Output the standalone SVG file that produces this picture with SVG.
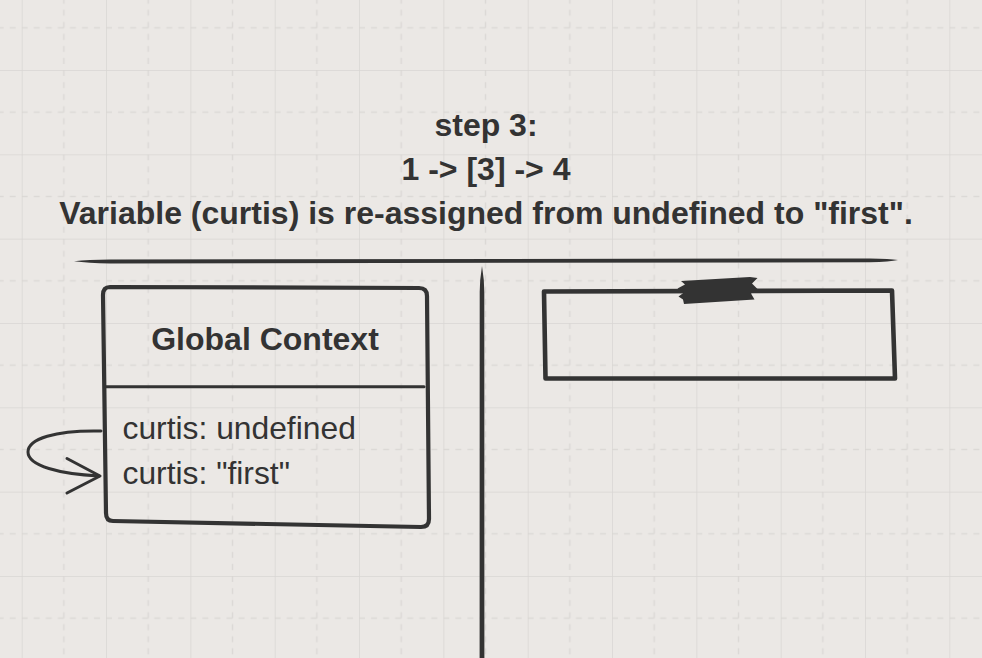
<svg xmlns="http://www.w3.org/2000/svg" width="982" height="658" viewBox="0 0 982 658">
  <style>
    .bg { fill: #ebe8e5; }
    .major { stroke: #d9d6d3; stroke-width: 1.5; fill: none; }
    .minor { stroke: #dcd9d6; stroke-width: 1.5; fill: none; stroke-dasharray: 6 6.05; }
    .ink { fill: #333333; }
    .stroke { fill: none; stroke: #333333; stroke-linecap: round; stroke-linejoin: round; }
    .title { font-family: "Liberation Sans", Arial, Helvetica, sans-serif; font-weight: bold; font-size: 32px; fill: #333333; text-anchor: middle; }
    .head { font-family: "Liberation Sans", Arial, Helvetica, sans-serif; font-weight: bold; font-size: 32px; fill: #333333; text-anchor: middle; }
    .body { font-family: "Liberation Sans", Arial, Helvetica, sans-serif; font-size: 31.8px; fill: #333333; }
  </style>
  <defs>
    <pattern id="grid" patternUnits="userSpaceOnUse" x="21.7" y="70" width="84.33" height="84.33">
      <line class="minor" x1="42.17" y1="0" x2="42.17" y2="84.33"/>
      <line class="minor" x1="0" y1="42.17" x2="84.33" y2="42.17"/>
      <line class="major" x1="0" y1="0" x2="0" y2="84.33"/>
      <line class="major" x1="0" y1="0" x2="84.33" y2="0"/>
    </pattern>
  </defs>

  <rect class="bg" x="0" y="0" width="982" height="658"/>
  <rect x="0" y="0" width="982" height="658" fill="url(#grid)"/>

  <g id="title">
    <text class="title" x="486" y="136">step 3:</text>
    <text class="title" x="486" y="180">1 -&gt; [3] -&gt; 4</text>
    <text class="title" x="486" y="224">Variable (curtis) is re-assigned from undefined to "first".</text>
  </g>

  <g id="dividers">
    <path class="ink" d="M74,261.3 Q88,259.6 110,259.6 L870,258.4 Q890,258.6 898,260 Q890,261.9 870,262.3 L110,263.4 Q88,263.2 74,261.3 Z"/>
    <path class="ink" d="M482,266 Q484.3,280 484.3,292 L484.4,658 L479.6,658 L479.7,292 Q479.7,280 482,266 Z"/>
  </g>

  <g id="global-context">
    <path class="stroke" stroke-width="4.2" d="M110,287 L419,288 Q427,288 427,296 L429,519 Q429,527 421,527 L113,521 Q106,521 106,513 L103,295 Q103,287 110,287 Z"/>
    <line class="stroke" stroke-width="3" x1="106" y1="386.7" x2="424" y2="386.7"/>
    <text class="head" x="265" y="350">Global Context</text>
    <text class="body" x="122.5" y="438.5">curtis: undefined</text>
    <text class="body" x="122.5" y="483.5">curtis: "first"</text>
  </g>

  <g id="stack-frame">
    <path class="stroke" stroke-width="4.6" stroke-linecap="butt" stroke-linejoin="miter" d="M544,291.5 L892,290.5 L895,378.5 L545.5,378.5 Z"/>
    <path class="ink" d="M681,281 L750,277 L757.5,278 L752,283.5 L757.5,289 L751,293.5 L754.5,299.5 L684,304 L683,299.5 L678.5,296.5 L684,292.5 L677.5,288.5 L685,284.5 Z"/>
  </g>

  <g id="connectors">
    <path class="stroke" stroke-width="3" d="M101,431 C55,430 28,439 28,452 C28,466 60,474 99,476"/>
    <path class="stroke" stroke-width="3" d="M67,458.5 L100,476 L67,493"/>
  </g>
</svg>
